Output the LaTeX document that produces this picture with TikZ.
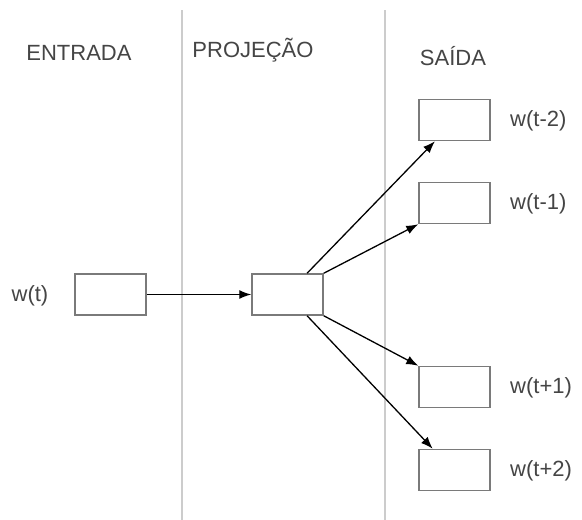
\documentclass[tikz,border=0pt]{standalone}
\usepackage{fontspec}
\setmainfont{Liberation Sans}
\usetikzlibrary{calc,arrows.meta}
\definecolor{txt}{HTML}{454545}
\definecolor{boxc}{HTML}{7A7A7A}
\definecolor{sep}{HTML}{CCCCCC}
\tikzset{
  wbox/.style={draw=boxc, line width=1.5pt, minimum width=71pt, minimum height=41pt, inner sep=0pt},
  lbl/.style={text=txt, font=\fontsize{22}{26}\selectfont, inner sep=0pt},
  conn/.style={line width=1.3pt, -{Latex[length=12pt,width=9pt]}},
  sepline/.style={draw=sep, line width=1.1pt}
}
\begin{document}
\begin{tikzpicture}[x=1pt,y=-1pt]
\useasboundingbox[fill=white] (0,0) rectangle (582,520);
\coordinate (s1t) at (182,10);
\coordinate (s1b) at (182,520);
\coordinate (s2t) at (385,10);
\coordinate (s2b) at (385,520);
\draw[sepline] (s1t) -- (s1b);
\draw[sepline] (s2t) -- (s2b);
\node[lbl] (hin) at (79,53) {ENTRADA};
\node[lbl] (hpr) at (253,50) {PROJEÇÃO};
\node[lbl] (hout) at (453,56) {SAÍDA};
\node[wbox] (in) at (110.5,294.5) {};
\node[wbox] (pr) at (287.5,294.5) {};
\node[wbox] (o1) at (454.5,120) {};
\node[wbox] (o2) at (454.5,203) {};
\node[wbox] (o3) at (454.5,387) {};
\node[wbox] (o4) at (454.5,470) {};
\node[lbl] (lin) at (30,296) {w(t)};
\node[lbl, anchor=west] (l1) at (510,121) {w(t-2)};
\node[lbl, anchor=west] (l2) at (510,204) {w(t-1)};
\node[lbl, anchor=west] (l3) at (510,388) {w(t+1)};
\node[lbl, anchor=west] (l4) at (510,471) {w(t+2)};
\draw[conn] (in.east) -- (pr.west);
\draw[conn] ($(pr.north west)!0.77!(pr.north east)$) -- ($(o1.south west)!0.23!(o1.south east)$);
\draw[conn] (pr.north east) -- (o2.south west);
\draw[conn] (pr.south east) -- (o3.north west);
\draw[conn] ($(pr.south west)!0.77!(pr.south east)$) -- ($(o4.north west)!0.20!(o4.north east)$);
\end{tikzpicture}
\end{document}
